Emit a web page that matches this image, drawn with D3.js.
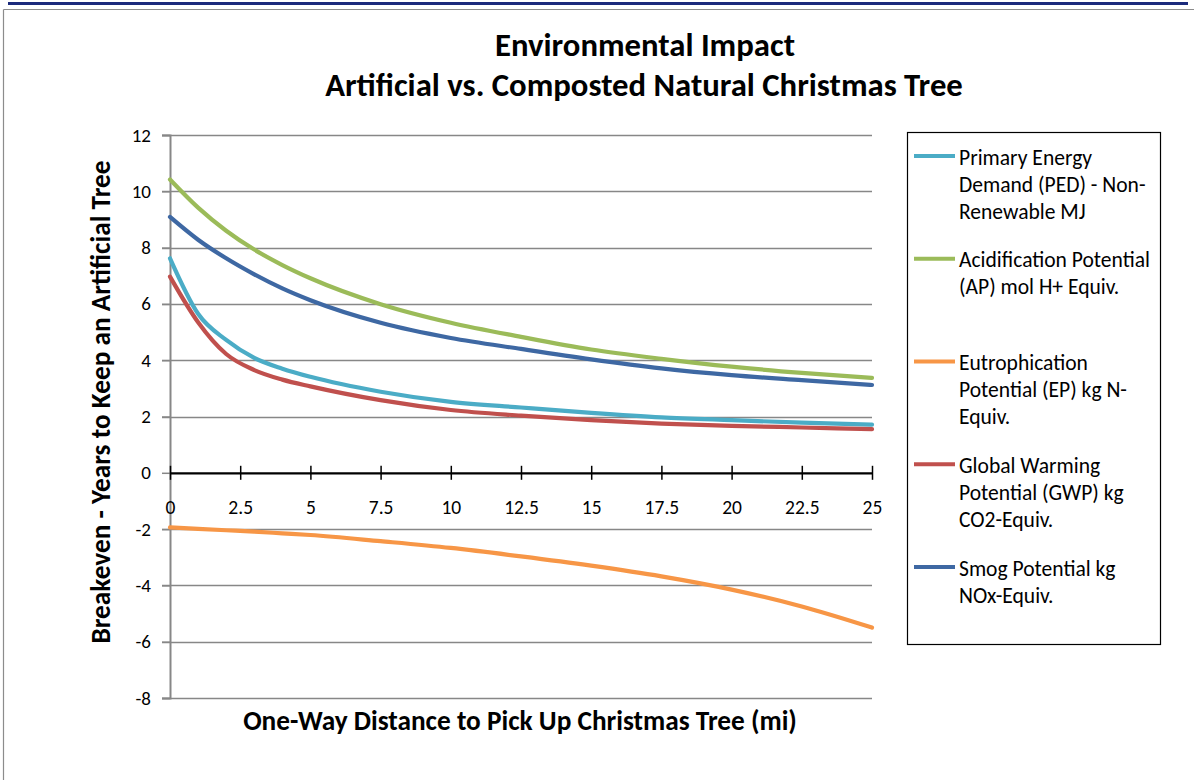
<!DOCTYPE html>
<html>
<head>
<meta charset="utf-8">
<script src="https://cdn.jsdelivr.net/npm/d3@7"></script>
<style>
  html, body { margin: 0; padding: 0; background: #fff; }
  svg { display: block; }
  text { font-family: Carlito, Lato, "Open Sans", sans-serif; fill: #000; }
</style>
</head>
<body>
<svg id="chart" width="1194" height="780"></svg>
<script>
// ---- data ----
const distance = [0, 1, 2, 3, 4, 5, 7.5, 10, 12.5, 15, 17.5, 20, 22.5, 25];
const ped  = [7.62, 5.65, 4.72, 4.08, 3.70, 3.41, 2.88, 2.52, 2.32, 2.13, 1.97, 1.87, 1.78, 1.71];
const ap   = [10.42, 9.42, 8.60, 7.93, 7.38, 6.91, 5.99, 5.33, 4.83, 4.38, 4.05, 3.77, 3.55, 3.37];
const ep   = [-1.94, -1.99, -2.04, -2.09, -2.15, -2.21, -2.43, -2.67, -2.97, -3.30, -3.68, -4.15, -4.75, -5.50];
const gwp  = [6.97, 5.35, 4.22, 3.65, 3.31, 3.07, 2.58, 2.23, 2.03, 1.87, 1.75, 1.67, 1.61, 1.55];
const smog = [9.09, 8.28, 7.62, 7.05, 6.55, 6.13, 5.33, 4.79, 4.40, 4.03, 3.71, 3.47, 3.29, 3.12];

const seriesLabels = [
  ["Primary Energy", "Demand (PED) - Non-", "Renewable MJ"],
  ["Acidification Potential", "(AP) mol H+ Equiv."],
  ["Eutrophication", "Potential (EP) kg N-", "Equiv."],
  ["Global Warming", "Potential (GWP) kg", "CO2-Equiv."],
  ["Smog Potential kg", "NOx-Equiv."]
];
const seriesColors = ["#4BACC6", "#9BBB59", "#F79646", "#C0504D", "#3E68A3"];
const xTicks = [0, 2.5, 5, 7.5, 10, 12.5, 15, 17.5, 20, 22.5, 25];
const yTicks = [-8, -6, -4, -2, 0, 2, 4, 6, 8, 10, 12];
const titleLines = ["Environmental Impact", "Artificial vs. Composted Natural Christmas Tree"];
const xTitle = "One-Way Distance to Pick Up Christmas Tree (mi)";
const yTitle = "Breakeven - Years to Keep an Artificial Tree";

const seriesValues = [ped, ap, ep, gwp, smog];
const series = seriesValues.map((vals, i) => ({
  label: seriesLabels[i], color: seriesColors[i],
  points: distance.map((d, j) => ({ x: d, y: vals[j] }))
}));

// ---- layout ----
const svg = d3.select("#chart");
const plot = { left: 170, right: 872, top: 135, bottom: 698 };
const x = d3.scaleLinear().domain([0, 25]).range([plot.left, plot.right]);
const y = d3.scaleLinear().domain([-8, 12]).range([plot.bottom, plot.top]);

function fitWidth(sel, target, start) {
  sel.style("font-size", start + "px");
  const w = sel.node().getComputedTextLength();
  const fs = start * target / w;
  sel.style("font-size", fs + "px");
  return fs;
}

// frame
svg.append("rect").attr("x", 8).attr("y", 2).attr("width", 1180).attr("height", 3).attr("fill", "#1B2A7C");
svg.append("line").attr("x1", 3.5).attr("x2", 1194).attr("y1", 9.5).attr("y2", 9.5).attr("stroke", "#8c8c8c").attr("stroke-width", 1.2);
svg.append("line").attr("x1", 3.5).attr("x2", 3.5).attr("y1", 9.5).attr("y2", 780).attr("stroke", "#8c8c8c").attr("stroke-width", 1.2);

// gridlines (excluding zero, which is the x axis)
svg.append("g").selectAll("line").data(yTicks.filter(v => v !== 0)).join("line")
  .attr("x1", plot.left - 8).attr("x2", plot.right)
  .attr("y1", d => Math.round(y(d)) + 0.5).attr("y2", d => Math.round(y(d)) + 0.5)
  .attr("stroke", "#878787").attr("stroke-width", 1.5);

// y axis
const yAxis = svg.append("g").attr("transform", `translate(${plot.left},0)`)
  .call(d3.axisLeft(y).tickValues(yTicks).tickFormat(d => String(d)).tickSize(8).tickPadding(11));
yAxis.select(".domain").attr("stroke", "#878787").attr("stroke-width", 2);
yAxis.selectAll(".tick line").attr("stroke", "#878787").attr("stroke-width", 1.5);
yAxis.selectAll("text").style("font-size", "19px").attr("fill", "#000");

// x axis at zero
const xAxis = svg.append("g").attr("transform", `translate(0,${y(0)})`)
  .call(d3.axisBottom(x).tickValues(xTicks).tickFormat(d => String(d)).tickSizeInner(7).tickSizeOuter(0).tickPadding(20));
xAxis.select(".domain").attr("stroke", "#000").attr("stroke-width", 2.2);
xAxis.selectAll(".tick line").attr("y1", -7).attr("y2", 7).attr("stroke", "#000").attr("stroke-width", 1.5);
xAxis.selectAll("text").style("font-size", "19.5px").attr("fill", "#000");

// series lines
const lineGen = d3.line().x(d => x(d.x)).y(d => y(d.y)).curve(d3.curveMonotoneX);
svg.append("g").selectAll("path").data(series).join("path")
  .attr("d", d => lineGen(d.points))
  .attr("fill", "none").attr("stroke", d => d.color)
  .attr("stroke-width", 4.2).attr("stroke-linejoin", "round").attr("stroke-linecap", "round");

// titles
const t2 = svg.append("text").attr("x", 644).attr("y", 85).attr("text-anchor", "middle")
  .attr("dominant-baseline", "central").style("font-weight", "bold").text(titleLines[1]);
const titleSize = fitWidth(t2, 638, 26);
svg.append("text").attr("x", 645).attr("y", 45).attr("text-anchor", "middle")
  .attr("dominant-baseline", "central").style("font-weight", "bold").style("font-size", titleSize + "px").text(titleLines[0]);

const xt = svg.append("text").attr("x", 520).attr("y", 720).attr("text-anchor", "middle")
  .attr("dominant-baseline", "central").style("font-weight", "bold").text(xTitle);
const axisTitleSize = fitWidth(xt, 554, 22);
svg.append("text").attr("transform", "translate(100,402) rotate(-90)").attr("text-anchor", "middle")
  .attr("dominant-baseline", "central").style("font-weight", "bold").style("font-size", axisTitleSize + "px").text(yTitle);

// legend
svg.append("rect").attr("x", 907.5).attr("y", 132.5).attr("width", 253).attr("height", 512)
  .attr("fill", "#fff").attr("stroke", "#000").attr("stroke-width", 1.2);
const probe = svg.append("text").attr("x", -1000).attr("y", -1000).text(seriesLabels[1][0]);
const legendSize = fitWidth(probe, 191, 18);
probe.remove();
const entry = svg.append("g").selectAll("g").data(series).join("g")
  .attr("transform", (d, i) => `translate(0,${156 + i * 102.75})`);
entry.append("line").attr("x1", 914).attr("x2", 955).attr("y1", 0).attr("y2", 0)
  .attr("stroke", d => d.color).attr("stroke-width", 4.2);
entry.each(function(d) {
  d3.select(this).selectAll("text").data(d.label).join("text")
    .attr("x", 959).attr("y", (l, k) => 1 + k * 27)
    .attr("dominant-baseline", "central").style("font-size", legendSize + "px").text(l => l);
});
</script>
</body>
</html>
